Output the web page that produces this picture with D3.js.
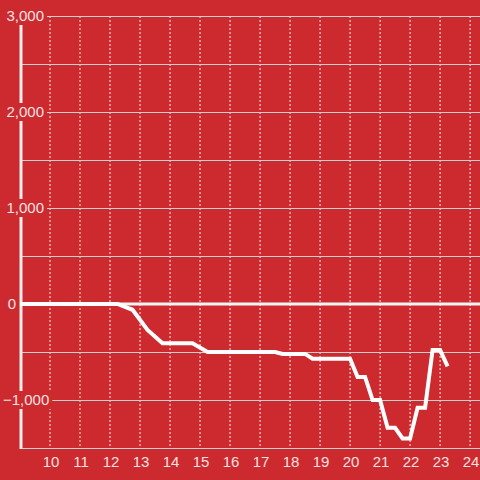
<!DOCTYPE html>
<html lang="en">
<head>
<meta charset="UTF-8">
<title>Line chart</title>
<style>
  html, body { margin: 0; padding: 0; background: #cc2a2f; }
  svg { display: block; font-family: "Liberation Sans", Arial, sans-serif; }
</style>
</head>
<body>
<div id="chart"></div>
<script src="https://cdnjs.cloudflare.com/ajax/libs/d3/7.8.5/d3.min.js"></script>
<script>
  // series (hour of day -> value)
  const hours = [9, 12.25, 12.75, 13.25, 13.75, 14.75, 15.25, 17.5, 17.75, 18.5, 18.75, 20,
    20.25, 20.5, 20.75, 21, 21.25, 21.5, 21.75, 22, 22.25, 22.5, 22.75, 23, 23.25];
  const values = [0, 0, -60, -270, -410, -410, -500, -500, -520, -520, -570, -570,
    -760, -760, -1000, -1000, -1290, -1290, -1400, -1400, -1080, -1080, -480, -480, -650];
  const xTicks = [10, 11, 12, 13, 14, 15, 16, 17, 18, 19, 20, 21, 22, 23, 24];
  const yTicks = [3000, 2000, 1000, 0, -1000];
  const yGrid = [3000, 2500, 2000, 1500, 1000, 500, -500, -1000, -1500];

  const width = 480, height = 480;
  const bg = "#cc2a2f";
  const svg = d3.select("#chart").append("svg")
    .attr("width", width)
    .attr("height", height);

  svg.append("rect").attr("width", width).attr("height", height).attr("fill", bg);

  const x = d3.scaleLinear().domain([9, 24.33]).range([20, 480]);
  const y = d3.scaleLinear().domain([-1500, 3000]).range([448, 16]);

  // vertical dotted grid
  svg.append("g").selectAll("line")
    .data(xTicks)
    .join("line")
    .attr("x1", d => x(d)).attr("x2", d => x(d))
    .attr("y1", y(3000)).attr("y2", y(-1500))
    .attr("stroke", "#eeeeee")
    .attr("stroke-width", 1)
    .attr("stroke-dasharray", "2,2");

  // horizontal grid
  svg.append("g").selectAll("line")
    .data(yGrid)
    .join("line")
    .attr("x1", 20).attr("x2", width)
    .attr("y1", d => y(d) + 0.5).attr("y2", d => y(d) + 0.5)
    .attr("stroke", "#cfcfcf")
    .attr("stroke-width", 1);

  // zero line
  svg.append("line")
    .attr("x1", 20).attr("x2", width)
    .attr("y1", y(0)).attr("y2", y(0))
    .attr("stroke", "#f5f5f5")
    .attr("stroke-width", 3);

  // y axis line
  svg.append("line")
    .attr("x1", 21).attr("x2", 21)
    .attr("y1", y(3000)).attr("y2", y(-1500) + 1)
    .attr("stroke", "#eeeeee")
    .attr("stroke-width", 3);

  // data line
  const line = d3.line()
    .x((d, i) => x(hours[i]))
    .y(d => y(d));

  svg.append("path")
    .datum(values)
    .attr("d", line)
    .attr("fill", "none")
    .attr("stroke", "#ffffff")
    .attr("stroke-width", 4)
    .attr("stroke-linejoin", "miter");

  // y labels with red box behind them
  const fmt = d3.format(",");
  const yl = svg.append("g").selectAll("g")
    .data(yTicks)
    .join("g");
  yl.each(function(d) {
    const g = d3.select(this);
    const rect = g.append("rect").attr("fill", bg);
    const t = g.append("text")
      .attr("y", y(d))
      .attr("dy", "0.35em")
      .attr("font-size", 15)
      .attr("fill", "#f3e1e1")
      .text(fmt(d));
    const w = t.node().getComputedTextLength();
    const x0 = w > 20 ? Math.max(3, 44 - w) : 16 - w;
    t.attr("x", x0);
    rect.attr("x", x0 - 2).attr("y", y(d) - 9).attr("width", w + 5).attr("height", 18);
  });

  // x labels
  svg.append("g").selectAll("text")
    .data(xTicks)
    .join("text")
    .attr("x", d => x(d) + 1)
    .attr("y", 467)
    .attr("text-anchor", "middle")
    .attr("font-size", 15)
    .attr("fill", "#f3e1e1")
    .text(d => d);
</script>
</body>
</html>
